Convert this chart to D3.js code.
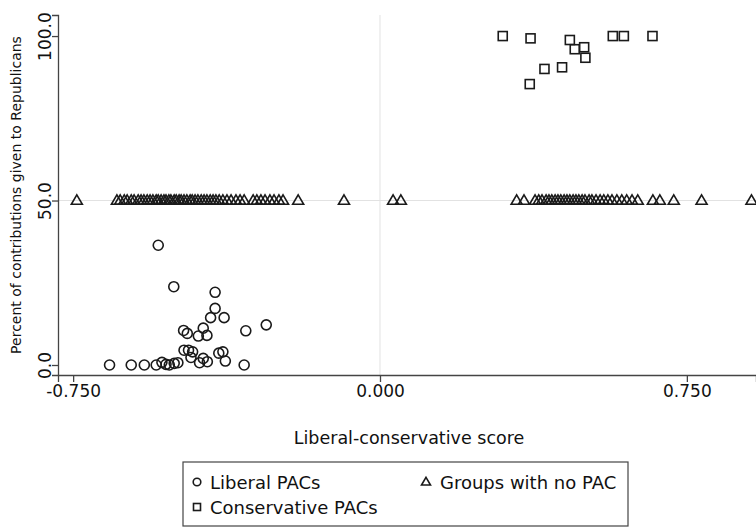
<!DOCTYPE html>
<meta charset="utf-8">
<html>
<head>
<style>
body { margin: 0; background: #fff; }
text { font-family: "DejaVu Sans", sans-serif; fill: #111; }
.mark { fill: none; stroke: #1a1a1a; stroke-width: 1.6px; }
.grid { stroke: #e2e2e2; stroke-width: 1px; }
.axisline { stroke: #444; stroke-width: 1.3px; }
</style>
</head>
<body>
<svg width="756" height="531"></svg>
<script src="https://cdn.jsdelivr.net/npm/d3@7"></script>
<script>

// Liberal PACs: [score, percent]
var liberal = [
  [-0.542, 36.4], [-0.504, 23.8], [-0.403, 22.1], [-0.403, 17.2], [-0.414, 14.4],
  [-0.381, 14.4], [-0.278, 12.2], [-0.328, 10.4], [-0.480, 10.5], [-0.471, 9.6],
  [-0.432, 11.2], [-0.444, 8.8], [-0.423, 9.0], [-0.479, 4.5], [-0.468, 4.5],
  [-0.458, 4.0], [-0.462, 2.3], [-0.441, 0.7], [-0.432, 2.0], [-0.422, 1.0],
  [-0.394, 3.6], [-0.384, 4.0], [-0.378, 1.2], [-0.332, 0.0], [-0.661, 0.0],
  [-0.608, 0.0], [-0.576, 0.0], [-0.547, 0.0], [-0.533, 0.8], [-0.523, 0.2],
  [-0.515, 0.0], [-0.503, 0.5], [-0.494, 0.7]
];

// Conservative PACs
var conservative = [
  [0.300, 100.0], [0.368, 99.3], [0.464, 98.8], [0.476, 96.0], [0.499, 96.6],
  [0.502, 93.4], [0.569, 100.0], [0.596, 100.0], [0.666, 100.0], [0.402, 90.0],
  [0.445, 90.5], [0.366, 85.4]
];

// Groups with no PAC (all plotted at 50)
var noPacScores = [
  -0.741, -0.643, -0.635, -0.625, -0.618, -0.608, -0.601, -0.591, -0.584, -0.577,
  -0.569, -0.562, -0.555, -0.547, -0.542, -0.535, -0.528, -0.523, -0.516, -0.511,
  -0.503, -0.498, -0.491, -0.486, -0.479, -0.472, -0.464, -0.459, -0.452, -0.445,
  -0.437, -0.430, -0.423, -0.415, -0.408, -0.401, -0.393, -0.384, -0.374, -0.364,
  -0.352, -0.342, -0.332, -0.310, -0.301, -0.291, -0.281, -0.269, -0.259, -0.247,
  -0.237, -0.200, -0.088, 0.032, 0.051,
  0.334, 0.352, 0.379, 0.388, 0.396, 0.406, 0.413, 0.420, 0.428, 0.435,
  0.442, 0.450, 0.457, 0.464, 0.472, 0.479, 0.486, 0.494, 0.501, 0.511,
  0.518, 0.528, 0.538, 0.547, 0.557, 0.567, 0.579, 0.591, 0.603, 0.616,
  0.630, 0.667, 0.684, 0.718, 0.786, 0.908
];
var noPacValue = 50;

var xTicks = [-0.75, 0, 0.75];
var yTicks = [0, 50, 100];

var svg = d3.select("svg");

var x = d3.scaleLinear().domain([-0.787, 0.919]).range([58, 756]);
var y = d3.scaleLinear().domain([-3.04, 106.4]).range([375, 15]);

// plain hyphen for negatives, like the original
var fmt = function(p) {
  var f = d3.format("." + p + "f");
  return function(d) { return f(d).replace("\u2212", "-"); };
};

// grid lines at 0 and 50
svg.append("line").attr("class", "grid")
  .attr("x1", x(0)).attr("x2", x(0)).attr("y1", y.range()[1]).attr("y2", y.range()[0]);
svg.append("line").attr("class", "grid")
  .attr("x1", x.range()[0]).attr("x2", x.range()[1]).attr("y1", y(50)).attr("y2", y(50));

// axes
var xAxis = d3.axisBottom(x).tickValues(xTicks).tickSize(7).tickPadding(3).tickFormat(fmt(3));
var gx = svg.append("g").attr("transform", "translate(0," + y.range()[0] + ")").call(xAxis);
gx.select(".domain").attr("class", "axisline domain");
gx.selectAll(".tick line").attr("class", "axisline");
gx.selectAll(".tick text").style("font-size", "17px").attr("fill", "#111");

var yAxis = d3.axisLeft(y).tickValues(yTicks).tickSize(6).tickFormat(fmt(1));
var gy = svg.append("g").attr("transform", "translate(" + x.range()[0] + ",0)").call(yAxis);
gy.select(".domain").attr("class", "axisline domain");
gy.selectAll(".tick line").attr("class", "axisline");
gy.selectAll(".tick text")
  .style("font-size", "17px").attr("fill", "#111")
  .attr("text-anchor", "middle")
  .attr("x", null).attr("dy", null)
  .attr("transform", "translate(-7,0) rotate(-90)");

// axis titles
svg.append("text")
  .attr("transform", "translate(21," + (y.range()[0] + y.range()[1]) / 2 + ") rotate(-90)")
  .attr("text-anchor", "middle").style("font-size", "14px")
  .text("Percent of contributions given to Republicans");

svg.append("text")
  .attr("x", 409).attr("y", 444).attr("text-anchor", "middle").style("font-size", "17.5px")
  .text("Liberal-conservative score");

// markers
var triPath = function(s) {
  var h = s * 0.85;
  return "M0," + (-h * 0.6) + "L" + (s / 2) + "," + (h * 0.4) + "L" + (-s / 2) + "," + (h * 0.4) + "Z";
};

svg.append("g").selectAll("path.tri")
  .data(noPacScores).enter().append("path")
  .attr("class", "mark")
  .attr("d", triPath(11))
  .attr("transform", function(d) { return "translate(" + x(d) + "," + y(noPacValue) + ")"; });

svg.append("g").selectAll("circle")
  .data(liberal).enter().append("circle")
  .attr("class", "mark")
  .attr("r", 5)
  .attr("cx", function(d) { return x(d[0]); })
  .attr("cy", function(d) { return y(d[1]); });

svg.append("g").selectAll("rect")
  .data(conservative).enter().append("rect")
  .attr("class", "mark")
  .attr("width", 9).attr("height", 9)
  .attr("x", function(d) { return x(d[0]) - 4.5; })
  .attr("y", function(d) { return y(d[1]) - 4.5; });

// legend
var lg = svg.append("g");
lg.append("rect").attr("x", 183).attr("y", 462).attr("width", 445).attr("height", 64)
  .attr("fill", "#fff").attr("stroke", "#444").attr("stroke-width", 1.2);
lg.append("circle").attr("class", "mark").attr("cx", 197).attr("cy", 482).attr("r", 3.8);
lg.append("text").attr("x", 210).attr("y", 489).style("font-size", "18px").text("Liberal PACs");
lg.append("path").attr("class", "mark").attr("d", triPath(9))
  .attr("transform", "translate(426,482)");
lg.append("text").attr("x", 440).attr("y", 489).style("font-size", "18px").text("Groups with no PAC");
lg.append("rect").attr("class", "mark").attr("x", 193.5).attr("y", 503.5).attr("width", 7).attr("height", 7);
lg.append("text").attr("x", 210).attr("y", 514).style("font-size", "18px").text("Conservative PACs");

</script>
</body>
</html>
